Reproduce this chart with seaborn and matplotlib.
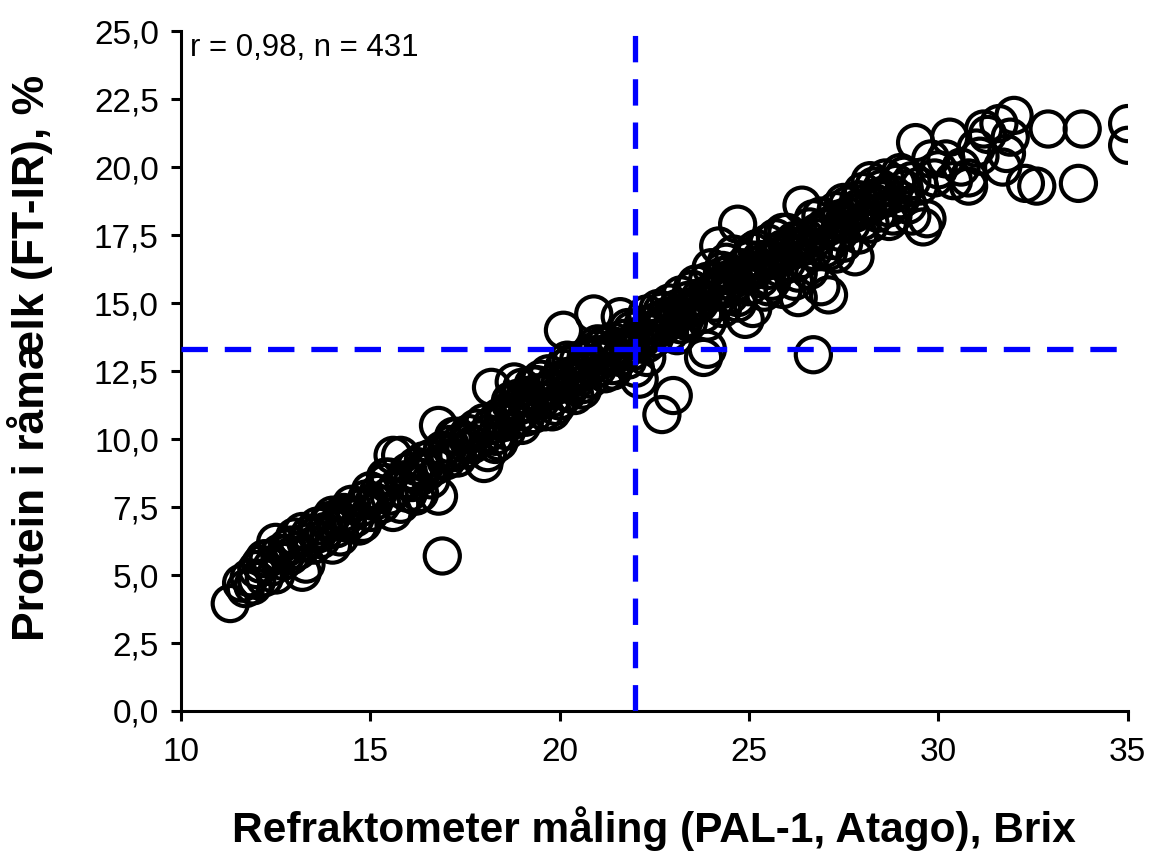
import matplotlib
matplotlib.use("Agg")
import matplotlib.pyplot as plt
import seaborn as sns
import pandas as pd

# ---- data (Brix vs protein %) ----
brix_a = [11.3, 11.6, 11.7, 11.8, 11.9, 12.0, 12.0, 12.1, 12.2, 12.3, 12.4, 12.5, 12.5, 12.6, 12.7,
          12.8, 12.9, 13.0, 13.1, 13.2, 13.2, 13.3, 13.3, 13.4, 13.5, 13.6, 13.7, 13.8, 13.9, 14.0,
          14.0, 14.1, 14.2, 14.2, 14.3, 14.4, 14.5, 14.6, 14.7, 14.8, 14.9, 15.0, 15.0, 15.1]
prot_a = [3.95, 4.7, 4.5, 4.9, 4.6, 5.2, 4.8, 5.4, 4.9, 5.6, 5.3, 6.2, 5.0, 5.8, 5.5,
          6.0, 5.7, 6.4, 5.9, 5.1, 6.6, 6.2, 5.4, 6.5, 6.1, 6.8, 6.3, 6.6, 6.9, 6.1,
          7.2, 6.7, 7.0, 6.4, 7.3, 6.9, 7.6, 7.1, 6.8, 7.5, 7.8, 7.3, 8.1, 7.7]

brix_b = [15.2, 15.3, 15.4, 15.5, 15.5, 15.6, 15.6, 15.7, 15.8, 15.8, 15.9, 16.0, 16.0, 16.1, 16.2,
          16.3, 16.3, 16.4, 16.5, 16.6, 16.6, 16.7, 16.8, 16.8, 16.9, 16.9, 17.0, 17.1, 17.2, 17.3,
          17.3, 17.4, 17.5, 17.6, 17.7, 17.8, 17.9, 18.0, 18.0, 18.1]
prot_b = [8.0, 7.6, 8.4, 7.9, 8.6, 9.4, 7.3, 8.2, 9.4, 7.6, 8.5, 8.8, 8.0, 8.4, 9.0,
          8.6, 8.0, 9.2, 8.8, 9.3, 8.5, 9.0, 10.5, 7.9, 5.7, 9.6, 9.2, 9.8, 9.5, 10.1,
          9.3, 9.9, 9.6, 10.2, 9.8, 10.4, 10.0, 9.1, 10.6, 10.2]

brix_c = [18.1, 18.2, 18.2, 18.3, 18.4, 18.4, 18.5, 18.6, 18.6, 18.7, 18.8, 18.8, 18.9, 19.0, 19.0,
          19.1, 19.1, 19.2, 19.3, 19.3, 19.4, 19.5, 19.5, 19.6, 19.7, 19.7, 19.8, 19.9, 19.9, 20.0,
          20.0, 20.1, 20.1, 20.2, 20.2, 20.3, 20.4, 20.4, 20.5, 20.5, 20.6, 20.7, 20.7, 20.8, 20.9,
          20.9, 21.0, 21.0, 21.1, 21.2, 21.2, 21.3, 21.4, 21.4, 21.5, 21.6, 21.6, 21.7, 21.8, 21.8,
          21.9, 21.9, 22.0, 22.0]
prot_c = [9.5, 11.9, 10.5, 10.1, 10.8, 9.9, 10.6, 11.0, 10.3, 11.3, 12.1, 10.7, 11.5, 11.0, 11.9,
          10.8, 11.6, 11.3, 12.0, 10.9, 11.7, 11.4, 12.2, 11.0, 11.8, 12.4, 11.5, 12.1, 11.2, 12.0,
          11.4, 14.0, 12.6, 11.7, 12.3, 12.8, 12.1, 11.6, 12.9, 12.4, 12.0, 13.0, 12.5, 12.2, 14.6,
          13.1, 12.6, 13.3, 12.9, 12.4, 13.5, 13.0, 13.6, 12.7, 13.3, 14.5, 13.0, 13.7, 13.4, 12.9,
          14.0, 13.2, 13.6, 12.6]

brix_d = [22.1, 22.1, 22.2, 22.3, 22.3, 22.4, 22.5, 22.5, 22.6, 22.7, 22.7, 22.8, 22.9, 22.9, 23.0,
          23.0, 23.1, 23.2, 23.2, 23.3, 23.4, 23.4, 23.5, 23.6, 23.6, 23.7, 23.8, 23.8, 23.9, 23.9,
          24.0, 24.0, 24.1, 24.2, 24.2, 24.3, 24.3, 24.4, 24.5, 24.5, 24.6, 24.6, 24.7, 24.7, 24.8,
          24.9, 24.9, 25.0, 25.0, 25.1, 25.1, 25.2, 25.3, 25.3, 25.4, 25.5, 25.5, 25.6, 25.7, 25.7,
          25.8, 25.9, 25.9, 26.0, 26.0]
prot_d = [12.2, 13.8, 14.2, 13.5, 14.6, 13.9, 14.3, 13.7, 14.8, 10.9, 14.1, 14.5, 13.9, 15.0, 11.6,
          14.4, 14.8, 14.2, 15.3, 14.7, 15.1, 14.3, 15.5, 14.9, 15.7, 15.2, 13.0, 14.6, 13.3, 15.8,
          15.4, 16.3, 15.0, 17.1, 15.6, 16.0, 14.8, 16.5, 15.3, 16.1, 15.7, 16.8, 17.9, 15.2, 16.3,
          14.4, 16.0, 15.6, 16.6, 14.8, 16.2, 17.0, 15.9, 16.6, 15.4, 16.2, 17.2, 15.8, 16.7, 17.4,
          16.3, 15.5, 17.0, 16.5, 17.6]

brix_e = [26.1, 26.2, 26.2, 26.3, 26.4, 26.4, 26.5, 26.6, 26.6, 26.7, 26.7, 26.8, 26.9, 26.9, 27.0,
          27.1, 27.1, 27.2, 27.3, 27.3, 27.4, 27.5, 27.5, 27.6, 27.7, 27.8, 27.8, 27.9, 28.0, 28.0,
          28.1, 28.2, 28.2, 28.3, 28.4, 28.5, 28.5, 28.6, 28.7, 28.8, 28.8, 28.9, 29.0, 29.0, 29.1,
          29.2, 29.3, 29.3, 29.4, 29.5, 29.6]
prot_e = [16.9, 15.8, 17.3, 15.2, 16.6, 18.6, 17.1, 16.2, 17.8, 13.1, 16.9, 17.4, 15.6, 18.2, 17.0,
          15.3, 17.8, 17.3, 16.8, 18.4, 17.6, 18.0, 17.2, 18.6, 17.9, 16.7, 18.3, 18.8, 18.0, 19.1,
          18.5, 19.5, 17.9, 18.7, 18.3, 19.2, 18.8, 19.6, 18.5, 19.0, 18.2, 19.4, 18.8, 19.8, 19.2,
          18.6, 19.5, 18.2, 20.9, 19.3, 17.8]

brix_f = [29.7, 29.8, 29.9, 30.0, 30.2, 30.3, 30.4, 30.6, 30.8, 30.8, 31.0, 31.1, 31.2, 31.3, 31.6,
          31.7, 31.8, 31.9, 32.0, 32.3, 32.6, 32.9, 33.7, 33.8, 35.0, 35.0]
prot_f = [18.1, 20.3, 19.6, 19.9, 20.3, 21.1, 19.5, 20.0, 19.3, 19.6, 20.7, 20.4, 21.4, 21.2, 21.6,
          20.0, 20.5, 21.1, 21.9, 19.4, 19.3, 21.4, 19.4, 21.4, 21.6, 20.8]

brix_g = [19.2, 19.6, 20.3, 20.6, 20.8, 21.1, 21.3, 21.5, 21.7, 22.2, 22.4, 22.6, 22.8, 23.1, 23.3,
          23.5, 23.7, 24.1, 24.3, 24.5, 24.8, 25.0, 25.2, 25.4, 25.6, 25.8, 26.1, 26.3, 26.5, 26.8,
          27.0, 27.2, 27.4, 27.6, 27.9, 28.1, 28.4, 28.6, 17.6, 17.0, 16.4, 16.0, 14.4, 13.6, 12.8,
          18.9, 19.8, 18.5]
prot_g = [11.5, 11.7, 12.2, 12.6, 12.7, 13.1, 13.2, 13.4, 13.3, 13.7, 14.0, 14.1, 14.3, 14.6, 14.4,
          14.8, 15.0, 15.4, 15.5, 15.8, 16.0, 16.1, 16.4, 16.5, 16.6, 16.9, 17.1, 17.0, 17.4, 17.6,
          17.8, 17.9, 18.1, 18.2, 18.5, 18.7, 18.9, 19.0, 9.9, 9.5, 8.9, 8.5, 7.2, 6.5, 5.8,
          11.2, 11.9, 10.7]

brix_h = [18.3, 18.7, 19.0, 19.4, 19.8, 20.2, 20.6, 21.0, 21.4, 21.8, 22.3, 22.7, 23.1, 23.5, 23.9,
          24.3, 24.7, 25.1, 25.5, 25.9, 26.3, 26.7, 27.1, 27.5, 27.9, 28.3, 28.7, 29.1, 15.4, 16.2,
          17.2, 14.8, 13.9, 12.9, 12.2]
prot_h = [9.8, 11.4, 10.5, 12.0, 11.0, 12.9, 11.8, 13.5, 12.5, 14.1, 13.0, 14.7, 13.8, 15.5, 14.3,
          16.2, 15.0, 16.9, 15.6, 17.6, 16.1, 18.1, 16.9, 18.7, 17.5, 19.3, 18.0, 19.7, 8.6, 7.9,
          10.1, 6.9, 7.0, 6.1, 5.6]

ref_brix = 22.0
ref_protein = 13.3
x_ticks = [10, 15, 20, 25, 30, 35]
y_ticks = [0.0, 2.5, 5.0, 7.5, 10.0, 12.5, 15.0, 17.5, 20.0, 22.5, 25.0]
annotation = "r = 0,98, n = 431"
x_label = "Refraktometer måling (PAL-1, Atago), Brix"
y_label = "Protein i råmælk (FT-IR), %"

df = pd.DataFrame({
    "brix": brix_a + brix_b + brix_c + brix_d + brix_e + brix_f + brix_g + brix_h,
    "protein": prot_a + prot_b + prot_c + prot_d + prot_e + prot_f + prot_g + prot_h,
})

sns.set_theme(style="white")
plt.rcParams["font.family"] = ["Liberation Sans", "DejaVu Sans"]
plt.rcParams["text.color"] = "black"
plt.rcParams["axes.labelcolor"] = "black"
plt.rcParams["xtick.color"] = "black"
plt.rcParams["ytick.color"] = "black"

fig = plt.figure(figsize=(11.53, 8.52), dpi=100)
ax = fig.add_axes([0.157, 0.1655, 0.821, 0.798])

sns.scatterplot(data=df, x="brix", y="protein", ax=ax, marker="o", s=640,
                facecolor="none", edgecolor="black", linewidth=3.0, zorder=2)

ax.axvline(ref_brix, color="#0000FF", lw=3.8, dashes=(5.0, 3.2), zorder=3)
ax.axhline(ref_protein, color="#0000FF", lw=3.8, dashes=(5.0, 3.2), zorder=3)

ax.set_xlim(10, 35)
ax.set_ylim(0, 25)
ax.set_xticks(x_ticks)
ax.set_xticklabels([str(t) for t in x_ticks])
ax.set_yticks(y_ticks)
ax.set_yticklabels([f"{t:.1f}".replace(".", ",") for t in y_ticks])

for side in ["top", "right"]:
    ax.spines[side].set_visible(False)
for side in ["left", "bottom"]:
    ax.spines[side].set_linewidth(2.2)
    ax.spines[side].set_color("black")
ax.tick_params(axis="both", direction="out", length=7, width=2.2, color="black",
               labelsize=24, bottom=True, left=True)
ax.tick_params(axis="x", pad=12)
ax.tick_params(axis="y", pad=9)

ax.set_xlabel(x_label, fontsize=30.5, fontweight="bold", labelpad=27)
ax.set_ylabel(y_label, fontsize=32, fontweight="bold")
ax.yaxis.set_label_coords(-0.135, 0.52)

ax.text(0.01, 0.997, annotation, transform=ax.transAxes, fontsize=22.5,
        ha="left", va="top")

fig.savefig("out.png", dpi=100)
